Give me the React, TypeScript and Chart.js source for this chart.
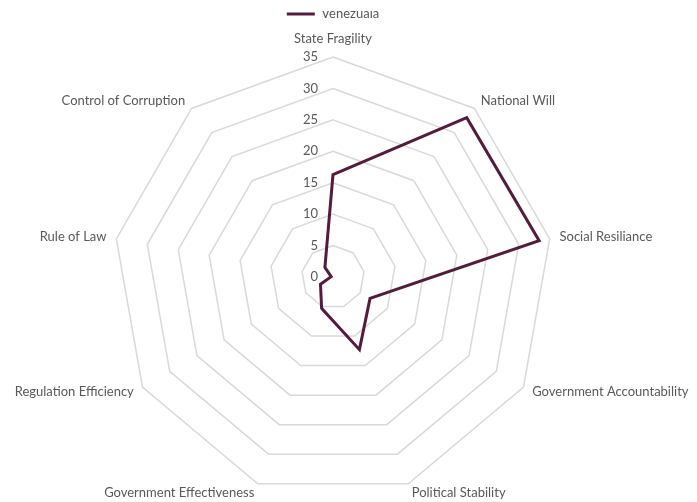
import React, { useEffect, useRef } from 'react';
import { Chart, registerables } from 'chart.js';

Chart.register(...registerables);

const categories = [
  'State Fragility',
  'National Will',
  'Social Resiliance',
  'Government Accountability',
  'Political Stability',
  'Government Effectiveness',
  'Regulation Efficiency',
  'Rule of Law',
  'Control of Corruption',
];
const seriesName = 'Venezuala';
const venezuelaValues = [16.3, 33.1, 33.3, 6.8, 12.3, 5.3, 2.3, 0.3, 2.0];
const tickValues = [0, 5, 10, 15, 20, 25, 30, 35];

const FONT = 'Lato, "Open Sans", sans-serif';
const TEXT = '#595959';
const LINE = '#541B3C';
const GRID = '#d9d9d9';

const sideTickLabels = {
  id: 'sideTickLabels',
  afterDatasetsDraw(chart: any) {
    const scale = chart.scales.r;
    const ctx = chart.ctx;
    ctx.save();
    ctx.font = `13px ${FONT}`;
    ctx.fillStyle = TEXT;
    ctx.textAlign = 'right';
    ctx.textBaseline = 'middle';
    scale.ticks.forEach((t: any) => {
      const d = scale.getDistanceFromCenterForValue(t.value);
      ctx.fillText(String(t.value), scale.xCenter - 15, scale.yCenter - d);
    });
    ctx.restore();
  },
};

export default function App() {
  const ref = useRef<HTMLCanvasElement | null>(null);

  useEffect(() => {
    if (!ref.current) return;
    const chart = new Chart(ref.current, {
      type: 'radar',
      data: {
        labels: categories,
        datasets: [
          {
            label: seriesName,
            data: venezuelaValues,
            borderColor: LINE,
            backgroundColor: LINE,
            borderWidth: 3,
            fill: false,
            tension: 0,
            borderJoinStyle: 'miter',
            pointRadius: 0,
            pointHoverRadius: 0,
            pointBorderColor: LINE,
            pointBackgroundColor: LINE,
            pointBorderWidth: 3,
          },
        ],
      },
      options: {
        responsive: false,
        devicePixelRatio: 1,
        animation: false,
        events: [],
        layout: { padding: 0 },
        plugins: {
          tooltip: { enabled: false },
          legend: {
            position: 'top',
            maxHeight: 28,
            labels: {
              usePointStyle: true,
              pointStyle: 'line',
              pointStyleWidth: 28,
              padding: 5.5,
              color: TEXT,
              font: { family: FONT, size: 13 },
            },
          },
        },
        scales: {
          r: {
            min: 0,
            max: 35,
            ticks: { display: false, stepSize: 5 },
            afterBuildTicks: (s: any) => {
              s.ticks = tickValues.map((v) => ({ value: v }));
            },
            grid: { color: GRID, lineWidth: 1.5, circular: false },
            angleLines: { display: false },
            pointLabels: {
              display: true,
              color: TEXT,
              font: { family: FONT, size: 13, lineHeight: 0 },
              padding: (c: any) => (c.index === 0 ? 18 : 10),
            },
          },
        },
      },
      plugins: [sideTickLabels],
    } as any);
    return () => chart.destroy();
  }, []);

  return (
    <div style={{ position: 'fixed', left: -67, top: 2, width: 800, height: 504 }}>
      <canvas
        ref={ref}
        width={800}
        height={504}
        style={{ display: 'block', clipPath: 'inset(9px 0 0 0)' }}
      />
    </div>
  );
}
